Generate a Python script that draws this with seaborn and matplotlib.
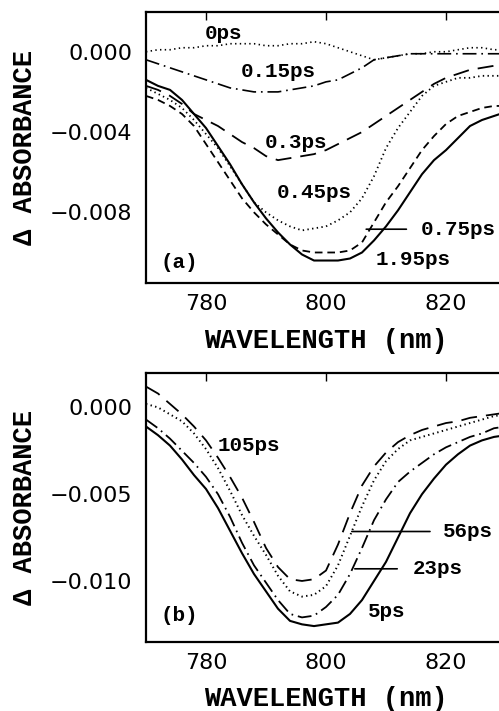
import matplotlib
matplotlib.use("Agg")
import matplotlib.pyplot as plt
import seaborn as sns

# wavelength grid (nm), shared by every trace
wl = [770, 772, 774, 776, 778, 780, 782, 784, 786, 788, 790, 792, 794, 796, 798,
      800, 802, 804, 806, 808, 810, 812, 814, 816, 818, 820, 822, 824, 826, 828, 830]

# panel (a): early delays
a_0ps = [0.0000, 0.0001, 0.0001, 0.0002, 0.0002, 0.0003, 0.0003, 0.0004, 0.0004, 0.0004,
         0.0003, 0.0003, 0.0004, 0.0004, 0.0005, 0.0004, 0.0002, 0.0000, -0.0002, -0.0004,
         -0.0003, -0.0002, -0.0001, -0.0001, 0.0000, 0.0000, 0.0001, 0.0002, 0.0002, 0.0001, 0.0001]
a_015ps = [-0.0004, -0.0006, -0.0008, -0.0010, -0.0012, -0.0014, -0.0016, -0.0018, -0.0019, -0.0020,
           -0.0020, -0.0020, -0.0019, -0.0018, -0.0017, -0.0015, -0.0014, -0.0011, -0.0008, -0.0004,
           -0.0003, -0.0002, -0.0001, -0.0001, -0.0001, -0.0001, -0.0001, -0.0001, -0.0001, -0.0001, -0.0001]
a_03ps = [-0.0017, -0.0019, -0.0022, -0.0026, -0.0031, -0.0034, -0.0037, -0.0041, -0.0045, -0.0048,
          -0.0052, -0.0054, -0.0053, -0.0052, -0.0051, -0.0049, -0.0046, -0.0043, -0.0040, -0.0036,
          -0.0032, -0.0028, -0.0024, -0.0020, -0.0016, -0.0013, -0.0011, -0.0009, -0.0008, -0.0007, -0.0007]
a_045ps = [-0.0018, -0.0021, -0.0024, -0.0028, -0.0034, -0.0041, -0.0048, -0.0057, -0.0066, -0.0075,
           -0.0080, -0.0084, -0.0087, -0.0089, -0.0088, -0.0087, -0.0084, -0.0080, -0.0073, -0.0062,
           -0.0048, -0.0038, -0.0030, -0.0022, -0.0017, -0.0015, -0.0013, -0.0013, -0.0012, -0.0012, -0.0012]
a_075ps = [-0.0022, -0.0024, -0.0027, -0.0031, -0.0037, -0.0046, -0.0055, -0.0064, -0.0073, -0.0080,
           -0.0086, -0.0091, -0.0096, -0.0099, -0.0100, -0.0100, -0.0100, -0.0099, -0.0095, -0.0085,
           -0.0075, -0.0067, -0.0058, -0.0049, -0.0042, -0.0036, -0.0032, -0.0030, -0.0028, -0.0027, -0.0027]
a_195ps = [-0.0014, -0.0017, -0.0019, -0.0024, -0.0031, -0.0038, -0.0047, -0.0056, -0.0066, -0.0075,
           -0.0083, -0.0090, -0.0096, -0.0101, -0.0104, -0.0104, -0.0104, -0.0103, -0.0100, -0.0094,
           -0.0087, -0.0079, -0.0070, -0.0061, -0.0054, -0.0049, -0.0043, -0.0037, -0.0034, -0.0032, -0.0030]

# panel (b): late delays
b_5ps = [-0.0011, -0.0016, -0.0022, -0.0030, -0.0039, -0.0047, -0.0058, -0.0071, -0.0084, -0.0096,
         -0.0106, -0.0116, -0.0123, -0.0125, -0.0126, -0.0125, -0.0124, -0.0119, -0.0111, -0.0100,
         -0.0089, -0.0075, -0.0061, -0.0050, -0.0041, -0.0033, -0.0027, -0.0022, -0.0019, -0.0017, -0.0016]
b_23ps = [-0.0007, -0.0012, -0.0018, -0.0025, -0.0032, -0.0040, -0.0050, -0.0063, -0.0078, -0.0091,
          -0.0101, -0.0111, -0.0119, -0.0121, -0.0120, -0.0115, -0.0108, -0.0096, -0.0081, -0.0065,
          -0.0053, -0.0043, -0.0037, -0.0032, -0.0027, -0.0023, -0.0020, -0.0017, -0.0015, -0.0012, -0.0011]
b_56ps = [0.0002, 0.0000, -0.0004, -0.0008, -0.0015, -0.0024, -0.0035, -0.0048, -0.0062, -0.0074,
          -0.0085, -0.0097, -0.0106, -0.0109, -0.0108, -0.0103, -0.0091, -0.0074, -0.0057, -0.0042,
          -0.0031, -0.0024, -0.0019, -0.0017, -0.0015, -0.0013, -0.0011, -0.0009, -0.0007, -0.0005, -0.0004]
b_105ps = [0.0012, 0.0008, 0.0002, -0.0004, -0.0011, -0.0019, -0.0029, -0.0040, -0.0052, -0.0066,
           -0.0081, -0.0092, -0.0099, -0.0100, -0.0099, -0.0094, -0.0079, -0.0061, -0.0045, -0.0034,
           -0.0026, -0.0020, -0.0016, -0.0013, -0.0011, -0.0009, -0.0008, -0.0006, -0.0005, -0.0004, -0.0003]

a_yticks = [0.0, -0.004, -0.008]
b_yticks = [0.0, -0.005, -0.010]
xticks = [780, 800, 820]

# line styles (in points, dashes not scaled by width)
SOLID = "-"
DOT = (0, (1.0, 2.4))
LONG = (0, (11.5, 6.5))
SHORT = (0, (5.5, 3.5))
DASHDOT = (0, (10, 3.5, 1.2, 3.5))

sns.set_style("white")
plt.rcParams["lines.scale_dashes"] = False

MONO = ["Liberation Mono", "DejaVu Sans Mono"]
ANN = dict(family=MONO, weight="bold", fontsize=15, color="black")
LAB = dict(family=MONO, weight="bold", fontsize=19.5, color="black")


def fmt(v, pos):
    return f"{v:.3f}".replace("-", "\u2212")


fig = plt.figure(figsize=(4.99, 7.11), dpi=100)
W, H = 499.0, 711.0
ax_a = fig.add_axes([146 / W, 1 - 283 / H, 360 / W, 271 / H])
ax_b = fig.add_axes([146 / W, 1 - 641.7 / H, 360 / W, 269 / H])

panel_a = [(a_0ps, DOT, 1.2), (a_015ps, DASHDOT, 1.2), (a_03ps, LONG, 1.3),
           (a_045ps, DOT, 1.3), (a_075ps, SHORT, 1.3), (a_195ps, SOLID, 1.5)]
panel_b = [(b_5ps, SOLID, 1.5), (b_23ps, DASHDOT, 1.3), (b_56ps, DOT, 1.4), (b_105ps, LONG, 1.3)]

for ax, series in ((ax_a, panel_a), (ax_b, panel_b)):
    for vals, ls, lw in series:
        sns.lineplot(x=wl, y=vals, ax=ax, color="black", linestyle=ls, linewidth=lw,
                     estimator=None, legend=False)

for ax, yt, ylim in ((ax_a, a_yticks, (-0.01152, 0.00198)), (ax_b, b_yticks, (-0.0135, 0.002))):
    ax.set_xlim(770, 830)
    ax.set_ylim(*ylim)
    ax.set_xticks(xticks)
    ax.set_yticks(yt)
    ax.yaxis.set_major_formatter(matplotlib.ticker.FuncFormatter(fmt))
    ax.tick_params(direction="in", length=6, width=1, top=True, right=False,
                   labelsize=16, colors="black")
    ax.tick_params(axis="y", pad=10)
    ax.tick_params(axis="x", pad=8)
    for lbl in ax.get_xticklabels() + ax.get_yticklabels():
        lbl.set_family("DejaVu Sans")
    for sp in ax.spines.values():
        sp.set_linewidth(1.6)
        sp.set_color("black")
    ax.set_xlabel("WAVELENGTH (nm)", va="center", **LAB)
    ax.set_ylabel("\u0394 ABSORBANCE", va="center", ha="center", **LAB)
    ax.xaxis.set_label_coords(0.5, -58 / 270.0)
    ax.yaxis.set_label_coords(-121 / 360.0, 0.5)

# panel (a) labels
ax_a.text(783, 0.00093, "0ps", ha="center", va="center", **ANN)
ax_a.text(792, -0.0010, "0.15ps", ha="center", va="center", **ANN)
ax_a.text(795, -0.00453, "0.3ps", ha="center", va="center", **ANN)
ax_a.text(798, -0.00702, "0.45ps", ha="center", va="center", **ANN)
ax_a.annotate("0.75ps", xy=(806.7, -0.00884), xytext=(815.8, -0.00884), ha="left", va="center",
              arrowprops=dict(arrowstyle="-", lw=1.2, color="black", shrinkA=8, shrinkB=0), **ANN)
ax_a.text(814.5, -0.01037, "1.95ps", ha="center", va="center", **ANN)
ax_a.text(775.5, -0.0105, "(a)", ha="center", va="center", **ANN)

# panel (b) labels
ax_b.text(787.2, -0.00217, "105ps", ha="center", va="center", **ANN)
ax_b.annotate("56ps", xy=(804.3, -0.00715), xytext=(819.5, -0.00715), ha="left", va="center",
              arrowprops=dict(arrowstyle="-", lw=1.2, color="black", shrinkA=7, shrinkB=0), **ANN)
ax_b.annotate("23ps", xy=(804.8, -0.0093), xytext=(814.5, -0.0093), ha="left", va="center",
              arrowprops=dict(arrowstyle="-", lw=1.2, color="black", shrinkA=9, shrinkB=0), **ANN)
ax_b.text(807, -0.01175, "5ps", ha="left", va="center", **ANN)
ax_b.text(775.5, -0.0120, "(b)", ha="center", va="center", **ANN)

fig.savefig("out.png", dpi=100, facecolor="white")
